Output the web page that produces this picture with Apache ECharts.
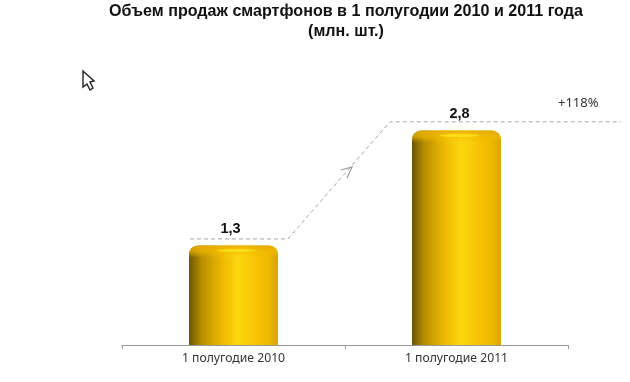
<!DOCTYPE html>
<html>
<head>
<meta charset="utf-8">
<style>
  html, body { margin: 0; padding: 0; background: #fff; }
  #main { width: 630px; height: 382px; }
</style>
<script src="https://cdn.jsdelivr.net/npm/echarts@6/dist/echarts.min.js"></script>
</head>
<body>
<div id="main"></div>
<script>
const categories = ['1 полугодие 2010', '1 полугодие 2011'];
const salesValues = [1.3, 2.8];
const valueLabels = ['1,3', '2,8'];
// dashed step line, x in category widths from the left end of the axis
const connectorX = [0.305, 0.744, 1.202, 2.238];
const connectorY = [1.385, 1.385, 2.915, 2.915];

const BAR_WIDTH = 89;
const LABEL_SHIFT = [-3, 3];
const chart = echarts.init(document.getElementById('main'));

function renderBar(params, api) {
  const top = api.coord([api.value(0), api.value(1)]);
  const base = api.coord([api.value(0), 0]);
  const x = top[0] - BAR_WIDTH / 2;
  const h = base[1] - top[1];
  return {
    type: 'group',
    children: [
      {
        type: 'rect',
        shape: { x: x, y: top[1], width: BAR_WIDTH, height: h, r: [9, 9, 0, 0] },
        style: {
          fill: new echarts.graphic.LinearGradient(0, 0, 1, 0, [
            { offset: 0, color: '#6b5608' },
            { offset: 0.14, color: '#b88e02' },
            { offset: 0.32, color: '#e6b000' },
            { offset: 0.55, color: '#ffd60c' },
            { offset: 0.88, color: '#f0b900' },
            { offset: 1, color: '#dca400' }
          ])
        }
      },
      {
        // soft rounded edge along the top of the bar
        type: 'rect',
        shape: { x: x, y: top[1], width: BAR_WIDTH, height: 12, r: [9, 9, 0, 0] },
        style: {
          fill: new echarts.graphic.LinearGradient(0, 0, 0, 1, [
            { offset: 0, color: 'rgba(228,168,0,0.95)' },
            { offset: 0.5, color: 'rgba(240,185,0,0.7)' },
            { offset: 1, color: 'rgba(240,185,0,0)' }
          ])
        }
      },
      {
        type: 'ellipse',
        shape: { cx: top[0] + 3, cy: top[1] + 5, rx: 20, ry: 1.5 },
        style: { fill: 'rgba(255,232,28,0.7)', shadowBlur: 8, shadowColor: '#ffe81c' }
      }
    ]
  };
}

chart.setOption({
  animation: false,
  backgroundColor: '#fff',
  textStyle: { fontFamily: 'Liberation Sans' },
  title: {
    text: 'Объем продаж смартфонов в 1 полугодии 2010 и 2011 года\n(млн. шт.)',
    left: 346,
    top: 2,
    padding: 0,
    textAlign: 'center',
    textStyle: { fontSize: 16.1, fontWeight: 'bold', color: '#111', lineHeight: 20, fontFamily: 'Liberation Sans' }
  },
  grid: [
    { left: 122, right: 62, top: 77, bottom: 37 },
    { left: 122, right: 9, top: 77, bottom: 37 }
  ],
  xAxis: [
    {
      type: 'category',
      data: categories,
      axisLine: { lineStyle: { color: '#999', width: 1 } },
      axisTick: { show: true, length: 4, lineStyle: { color: '#999' } },
      axisLabel: { color: '#333', fontSize: 12.2, margin: 8, fontFamily: 'Noto Sans' }
    },
    { type: 'value', gridIndex: 1, min: 0, max: 2.238, show: false }
  ],
  yAxis: [
    { type: 'value', min: 0, max: 3.5, show: false },
    { type: 'value', gridIndex: 1, min: 0, max: 3.5, show: false }
  ],
  series: [
    {
      type: 'custom',
      renderItem: renderBar,
      encode: { x: 0, y: 1 },
      data: salesValues.map((v, i) => [i, v]),
      z: 2
    },
    {
      // value labels sit on the bar tops, above the dashed line
      type: 'scatter',
      symbolSize: 0,
      itemStyle: { opacity: 1 },
      data: salesValues.map((v, i) => ({
        value: [i, v],
        label: {
          show: true,
          formatter: valueLabels[i],
          position: 'top',
          distance: 9,
          offset: [LABEL_SHIFT[i], 0],
          fontSize: 14.5,
          fontWeight: 'bold',
          color: '#111'
        }
      })),
      z: 4
    },
    {
      type: 'line',
      xAxisIndex: 1,
      yAxisIndex: 1,
      symbol: 'none',
      silent: true,
      lineStyle: { color: '#a6a6a6', width: 1, type: [4, 3] },
      data: connectorX.map((x, i) => [x, connectorY[i]]),
      z: 3
    }
  ],
  graphic: [
    {
      type: 'text',
      left: 558,
      top: 97,
      style: { text: '+118%', fontSize: 13, fill: '#333', fontFamily: 'Noto Sans' }
    },
    {
      // arrow head on the rising part of the dashed line
      type: 'polyline',
      shape: { points: [[341, 170], [352, 167], [347, 178]] },
      style: { stroke: '#999', lineWidth: 1.2, fill: null }
    },
    {
      // mouse cursor left in the original screenshot
      type: 'polygon',
      shape: { points: [[83, 71], [83, 87], [87, 84], [90, 90], [93, 88], [90, 82], [94, 81]] },
      style: { stroke: '#222', lineWidth: 1.4, fill: '#fff' }
    }
  ]
});
</script>
</body>
</html>
